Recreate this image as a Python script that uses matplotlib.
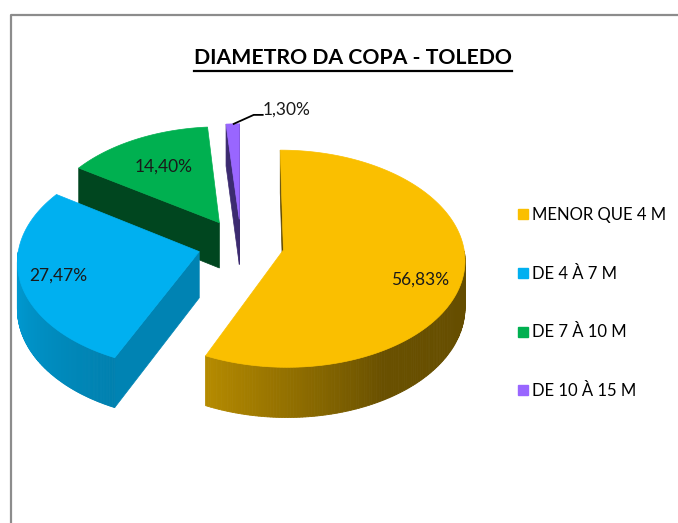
import numpy as np
import matplotlib
matplotlib.use("Agg")
import matplotlib.pyplot as plt
from matplotlib.patches import Polygon
from matplotlib.lines import Line2D
from matplotlib.colors import to_rgb

title = "DIAMETRO DA COPA - TOLEDO"
categories = ["MENOR QUE 4 M", "DE 4 À 7 M", "DE 7 À 10 M", "DE 10 À 15 M"]
percent = [56.83, 27.47, 14.40, 1.30]
pct_labels = ["56,83%", "27,47%", "14,40%", "1,30%"]

# styles
top_colors = ["#FABF00", "#00B0F0", "#00B050", "#9966FF"]
cut_colors = ["#5C4700", "#0083B3", "#00461F", "#3C2B70"]
label_r = [0.76, 0.79, 0.66, None]
label_z = [0.26, 0.0, 0.0, None]
FONT = ["Lato", "DejaVu Sans"]

W, H = 678, 523
CX, CY = 241, 244.5     # pie centre in pixels
RX, RY = 180, 107
DEPTH = 46
PERSP = 0.08
EXPLODE = 0.24


def proj(X, Y, z=0.0):
    # simple tilted disc with a bit of perspective
    g = 1.0 / (1.0 + PERSP * Y)
    return CX + RX * X * g, CY - RY * Y * g + DEPTH * z * g


def shade(color, f):
    return tuple(np.clip(np.array(to_rgb(color)) * f, 0, 1))


def side_factor(theta):
    t = np.mod(theta, 360)
    return np.interp(t, [180, 245, 300, 360], [0.9, 0.73, 0.42, 0.40])


def main():
    fig = plt.figure(figsize=(W / 100, H / 100), dpi=100)
    ax = fig.add_axes([0, 0, 1, 1])
    ax.set_xlim(0, W)
    ax.set_ylim(H, 0)
    ax.axis("off")

    # chart frame (only left / top edges visible)
    ax.plot([11, 11, W], [H, 15, 15], color="#8C8C8C", lw=1.6, clip_on=False)

    pct = np.array(percent)
    starts = 90 - 3.6 * np.concatenate([[0], np.cumsum(pct)[:-1]])
    ends = starts - 3.6 * pct
    mids = (starts + ends) / 2
    offx = EXPLODE * np.cos(np.radians(mids))
    offy = EXPLODE * np.sin(np.radians(mids))

    for i in np.argsort(-offy):
        a0, a1 = starts[i], ends[i]
        ox, oy = offx[i], offy[i]

        # cut faces that look toward the viewer
        for edge, normal in ((a0, a0 + 90), (a1, a1 - 90)):
            if np.sin(np.radians(normal)) < 0.02:
                ex = ox + np.cos(np.radians(edge))
                ey = oy + np.sin(np.radians(edge))
                pts = [proj(ox, oy, 0), proj(ex, ey, 0), proj(ex, ey, 1), proj(ox, oy, 1)]
                ax.add_patch(Polygon(pts, closed=True, fc=cut_colors[i],
                                     ec=cut_colors[i], lw=0.5))

        # outer wall, front part only
        th = np.linspace(a1, a0, 240)
        xs = ox + np.cos(np.radians(th))
        ys = oy + np.sin(np.radians(th))
        front = np.sin(np.radians(th)) < 0
        for k in range(len(th) - 1):
            if front[k] and front[k + 1]:
                c = shade(top_colors[i], side_factor((th[k] + th[k + 1]) / 2))
                pts = [proj(xs[k], ys[k], 0), proj(xs[k + 1], ys[k + 1], 0),
                       proj(xs[k + 1], ys[k + 1], 1), proj(xs[k], ys[k], 1)]
                ax.add_patch(Polygon(pts, closed=True, fc=c, ec=c, lw=0.6))

        # top face
        pts = [proj(ox, oy)] + [proj(x, y) for x, y in zip(xs, ys)]
        ax.add_patch(Polygon(pts, closed=True, fc=top_colors[i],
                             ec=top_colors[i], lw=0.5))

    # data labels
    for i in range(len(percent)):
        m = np.radians(mids[i])
        if label_r[i] is not None:
            lx, ly = proj(offx[i] + label_r[i] * np.cos(m),
                          offy[i] + label_r[i] * np.sin(m), label_z[i])
            ax.text(lx, ly, pct_labels[i], ha="center", va="center",
                    fontsize=12.5, family=FONT, color="#1a1a1a")
        else:
            rx, ry = proj(offx[i] + np.cos(m), offy[i] + np.sin(m))
            ax.plot([rx + 1, rx + 21, rx + 30], [ry, ry - 9, ry - 9],
                    color="black", lw=1.3)
            ax.text(rx + 30, ry - 14, pct_labels[i], ha="left", va="center",
                    fontsize=12.5, family=FONT, color="#1a1a1a")

    t = ax.text(353, 58, title, ha="center", va="center", fontsize=15.3,
                fontweight="bold", family=FONT, color="black")

    handles = [Line2D([], [], ls="", marker="s", markersize=7, color=c)
               for c in top_colors]
    ax.legend(handles, categories, loc="upper left",
              bbox_to_anchor=(510 / W, 1 - 199 / H), frameon=False,
              prop={"family": FONT, "size": 12}, handlelength=0.6,
              handletextpad=0.25, labelspacing=2.55, borderpad=0)

    # underline for the title
    fig.canvas.draw()
    bb = t.get_window_extent()
    ax.plot([bb.x0, bb.x1], [71, 71], color="black", lw=1.6)

    fig.savefig("out.png", dpi=100)


if __name__ == "__main__":
    main()
